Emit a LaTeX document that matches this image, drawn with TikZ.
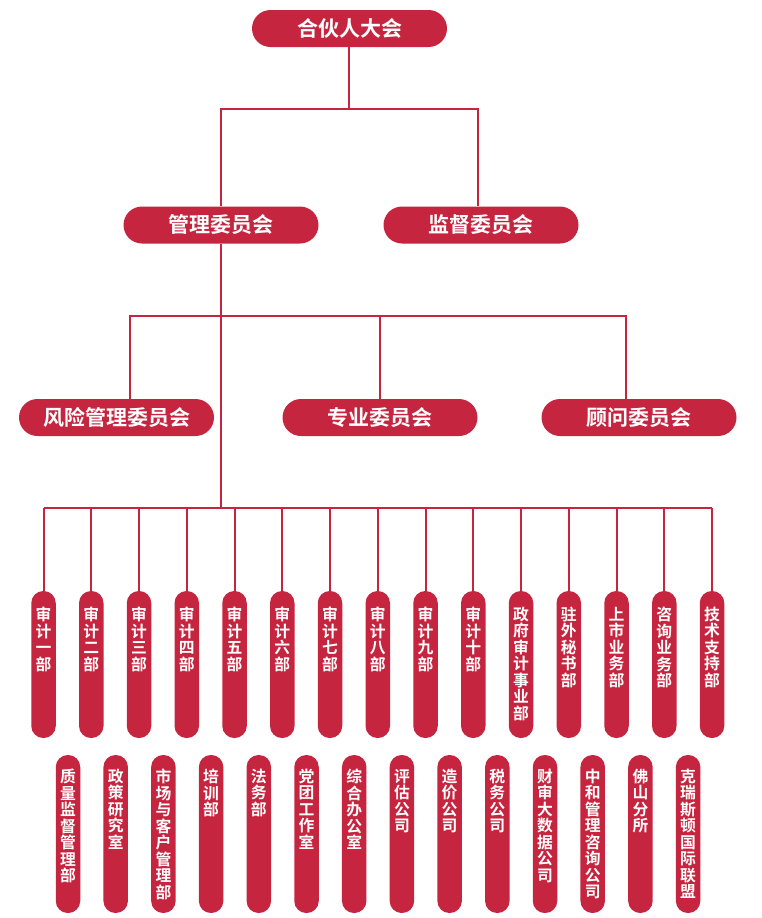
\documentclass[tikz,border=0pt]{standalone}
\usepackage{fontspec}
\setmainfont{Noto Sans CJK SC}[BoldFont={Noto Sans CJK SC Bold}]
\definecolor{crim}{RGB}{198,37,63}
\begin{document}
\begin{tikzpicture}[x=1pt,y=-1pt,
  conn/.style={draw=crim,line width=2pt},
  hbox/.style={fill=crim,rounded corners=18.5pt,minimum width=195pt,minimum height=37pt,inner sep=0pt,
    text=white,font=\fontsize{21}{23}\selectfont\bfseries},
  pillA/.style={fill=crim,rounded corners=12pt,minimum width=24.5pt,minimum height=147pt,inner sep=0pt},
  pillB/.style={fill=crim,rounded corners=12pt,minimum width=24.5pt,minimum height=158pt,inner sep=0pt},
  vtext/.style={text=white,align=center,inner sep=0pt,anchor=north,
    font=\fontsize{15.8}{16.5}\selectfont\bfseries}]
\useasboundingbox (0,0) rectangle (761,918);
% level 0-2 boxes
\node[hbox] (top)  at (349.5,28.5) {合伙人大会};
\node[hbox] (mgmt) at (221,225) {管理委员会};
\node[hbox] (sup)  at (481,225) {监督委员会};
\node[hbox] (risk) at (116.5,417.5) {风险管理委员会};
\node[hbox] (prof) at (380,417.5) {专业委员会};
\node[hbox] (adv)  at (639,417.5) {顾问委员会};
% buses
\coordinate (b1L) at (221,109);
\coordinate (b1R) at (478,109);
\coordinate (b2L) at (130,316);
\coordinate (b2R) at (626,316);
\coordinate (b3L) at (43.5,508);
\coordinate (b3R) at (712,508);
\draw[conn] (top.south -| 349,0) -- (349,109);
\draw[conn] (mgmt.north) -- (b1L) -- (b1R) -- (sup.north -| b1R);
\draw[conn] (risk.north -| b2L) -- (b2L) -- (b2R) -- (adv.north -| b2R);
\draw[conn] (prof.north) -- (prof.north |- b2L);
\draw[conn] (mgmt.south) -- (mgmt.south |- b3L);
\draw[conn] (b3L) -- (b3R);
% top row of departments
\foreach \t [count=\i] in {{审\\计\\一\\部},{审\\计\\二\\部},{审\\计\\三\\部},{审\\计\\四\\部},{审\\计\\五\\部},
  {审\\计\\六\\部},{审\\计\\七\\部},{审\\计\\八\\部},{审\\计\\九\\部},{审\\计\\十\\部},
  {政\\府\\审\\计\\事\\业\\部},{驻\\外\\秘\\书\\部},{上\\市\\业\\务\\部},{咨\\询\\业\\务\\部},{技\\术\\支\\持\\部}}{
  \node[pillA] (a\i) at ({43.5+47.75*(\i-1)},664.5) {};
  \node[vtext] (a\i t) at ([yshift=-16pt]a\i.north) {\t};
  \draw[conn] (a\i.north) -- (a\i.north |- b3L);
}
% bottom row
\foreach \t [count=\i] in {{质\\量\\监\\督\\管\\理\\部},{政\\策\\研\\究\\室},{市\\场\\与\\客\\户\\管\\理\\部},{培\\训\\部},{法\\务\\部},
  {党\\团\\工\\作\\室},{综\\合\\办\\公\\室},{评\\估\\公\\司},{造\\价\\公\\司},{税\\务\\公\\司},
  {财\\审\\大\\数\\据\\公\\司},{中\\和\\管\\理\\咨\\询\\公\\司},{佛\\山\\分\\所},{克\\瑞\\斯\\顿\\国\\际\\联\\盟}}{
  \node[pillB] (b\i) at ({68+47.7*(\i-1)},834) {};
  \node[vtext] (b\i t) at ([yshift=-14pt]b\i.north) {\t};
}
\end{tikzpicture}
\end{document}
